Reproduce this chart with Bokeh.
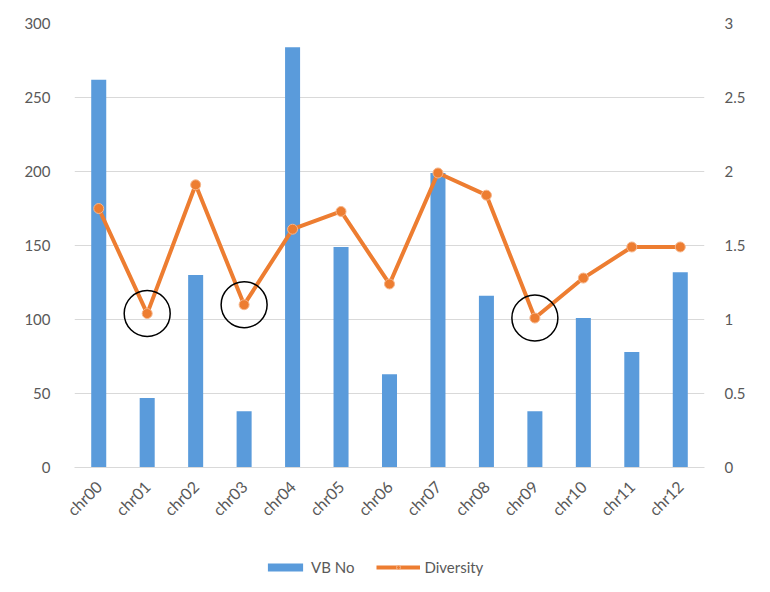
import math
from bokeh.plotting import figure
from bokeh.layouts import column
from bokeh.models import (ColumnDataSource, Range1d, LinearAxis, FixedTicker,
                          CustomJSTickFormatter, Legend, LegendItem)
from bokeh.embed import file_html
from bokeh.resources import INLINE

# ---- data ----
chroms = ["chr00", "chr01", "chr02", "chr03", "chr04", "chr05", "chr06",
          "chr07", "chr08", "chr09", "chr10", "chr11", "chr12"]
vb_no = [262, 47, 130, 38, 284, 149, 63, 199, 116, 38, 101, 78, 132]
diversity = [1.75, 1.04, 1.91, 1.10, 1.61, 1.73, 1.24, 1.99, 1.84, 1.01, 1.28, 1.49, 1.49]
circled = ["chr01", "chr03", "chr09"]
left_ticks = [0, 50, 100, 150, 200, 250, 300]
right_ticks = [0, 0.5, 1, 1.5, 2, 2.5, 3]
series_names = ["VB No", "Diversity"]

src = ColumnDataSource(dict(chrom=chroms, vb=vb_no, div=diversity))
circ_src = ColumnDataSource(dict(
    chrom=circled,
    div=[diversity[chroms.index(c)] for c in circled]))

FONT = "Lato"
GREY = "#595959"
BLUE = "#5A9BDB"
ORANGE = "#ED7D31"

bar_style = dict(fill_color=BLUE, line_color=None)
line_style = dict(line_color=ORANGE, line_width=4)
pt_style = dict(size=10, fill_color=ORANGE, line_color="#F6B58A", line_width=1)

p = figure(x_range=chroms, y_range=Range1d(0, 300), width=754, height=530,
           output_backend="svg", toolbar_location=None,
           min_border_left=74, min_border_right=50, min_border_top=23,
           min_border_bottom=63)
p.extra_y_ranges = {"div": Range1d(0, 3)}
p.outline_line_color = None

p.vbar(x="chrom", top="vb", width=0.31, source=src, **bar_style)
p.line(x="chrom", y="div", source=src, y_range_name="div", **line_style)
p.scatter(x="chrom", y="div", source=src, y_range_name="div", **pt_style)
p.scatter(x="chrom", y="div", source=circ_src, y_range_name="div",
          size=46, fill_color=None, line_color="black", line_width=1.5)

p.xgrid.grid_line_color = None
p.ygrid.grid_line_color = "#D9D9D9"
p.ygrid.ticker = FixedTicker(ticks=left_ticks)

yl = p.yaxis[0]
yl.ticker = FixedTicker(ticks=left_ticks)
yl.axis_line_color = None
yl.major_tick_line_color = None
yl.minor_tick_line_color = None
yl.major_label_text_color = GREY
yl.major_label_text_font = FONT
yl.major_label_text_font_size = "15px"
yl.major_label_standoff = 18

yr = LinearAxis(y_range_name="div", ticker=FixedTicker(ticks=right_ticks),
                formatter=CustomJSTickFormatter(code="return tick.toString();"))
yr.axis_line_color = None
yr.major_tick_line_color = None
yr.minor_tick_line_color = None
yr.major_label_text_color = GREY
yr.major_label_text_font = FONT
yr.major_label_text_font_size = "15px"
yr.major_label_standoff = 14
p.add_layout(yr, "right")

xa = p.xaxis[0]
xa.axis_line_color = "#D9D9D9"
xa.major_tick_line_color = None
xa.minor_tick_line_color = None
xa.major_label_orientation = math.pi / 4
xa.major_label_text_color = GREY
xa.major_label_text_font = FONT
xa.major_label_text_font_size = "16px"
xa.major_label_standoff = 10

# ---- legend strip: same series, drawn against a range that shows none of them ----
lg = figure(width=754, height=62, output_backend="svg", toolbar_location=None,
            min_border=0, min_border_left=0, min_border_right=0,
            min_border_top=0, min_border_bottom=0,
            x_range=chroms, y_range=Range1d(1000, 2000),
            x_axis_location=None, y_axis_location=None)
lg.grid.visible = False
lg.outline_line_color = None
r_bar = lg.vbar(x="chrom", top="vb", width=0.31, source=src, **bar_style)
r_line = lg.line(x="chrom", y="vb", source=src, **line_style)
r_pt = lg.scatter(x="chrom", y="vb", source=src, **pt_style)
legend = Legend(items=[LegendItem(label=series_names[0], renderers=[r_bar]),
                       LegendItem(label=series_names[1], renderers=[r_line, r_pt])],
                orientation="horizontal", location=(189, 16),
                border_line_color=None, background_fill_alpha=0,
                label_text_color=GREY, label_text_font=FONT,
                label_text_font_size="15px", glyph_width=44, glyph_height=10,
                spacing=22, label_standoff=4, margin=0, padding=4)
lg.add_layout(legend, "center")

layout = column(p, lg, spacing=0)
open("out.html", "w").write(file_html(layout, INLINE))
